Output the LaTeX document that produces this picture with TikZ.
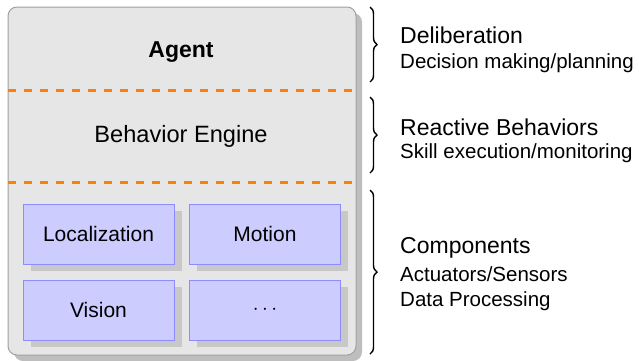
\documentclass[tikz,border=0pt]{standalone}
\usepackage{fontspec}
\setmainfont{Liberation Sans}
\usetikzlibrary{decorations.pathreplacing}
\definecolor{panelfill}{HTML}{E6E6E6}
\definecolor{paneledge}{HTML}{A0A0A0}
\definecolor{panelshadow}{HTML}{BEBEBE}
\definecolor{modfill}{HTML}{CCCCFF}
\definecolor{modedge}{HTML}{8C8CFF}
\definecolor{modshadow}{HTML}{C8C8C8}
\definecolor{layerline}{HTML}{FF8000}
\tikzset{
  panel/.style={draw=paneledge, fill=panelfill, line width=1pt, rounded corners=9pt,
    minimum width=348pt, minimum height=348pt, inner sep=0pt},
  panelshade/.style={fill=panelshadow, rounded corners=9pt,
    minimum width=348pt, minimum height=348pt, inner sep=0pt},
  module/.style={draw=modedge, fill=modfill, line width=1pt,
    minimum width=151pt, minimum height=60pt, inner sep=0pt,
    font=\fontsize{21}{25}\selectfont},
  moduleshade/.style={fill=modshadow, minimum width=151pt, minimum height=60pt, inner sep=0pt},
  layer/.style={draw=layerline, line width=3pt, dash pattern=on 8pt off 8pt},
  bracket/.style={decorate, decoration={brace, amplitude=7pt}, line width=1.4pt},
  title/.style={anchor=base west, inner sep=0pt, font=\fontsize{23}{27}\selectfont},
  subtitle/.style={anchor=base west, inner sep=0pt, font=\fontsize{20.5}{24}\selectfont},
  layername/.style={anchor=base, inner sep=0pt, font=\fontsize{23.6}{28}\selectfont},
}
\begin{document}
\begin{tikzpicture}[x=1pt, y=-1pt]
\useasboundingbox (0,0) rectangle (639,360);

% architecture panel with its drop shadow
\node[panelshade] (panelsh) at (188,187) {};
\node[panel] (panel) at (182,181) {};

% layer separators
\coordinate (sep1w) at (8,90);   \coordinate (sep1e) at (356,90);
\coordinate (sep2w) at (8,182);  \coordinate (sep2e) at (356,182);
\draw[layer] (sep1w) -- (sep1e);
\draw[layer] (sep2w) -- (sep2e);

% layer names
\node[layername, font=\fontsize{23}{27}\selectfont\bfseries] (agent) at (181,57) {Agent};
\node[layername] (engine) at (181,142) {Behavior Engine};

% component modules
\node[moduleshade] (locsh) at (106,241) {};
\node[moduleshade] (motsh) at (272,241) {};
\node[moduleshade] (vissh) at (106,317) {};
\node[moduleshade] (dotsh) at (272,317) {};
\node[module] (loc) at (98.5,234) {Localization};
\node[module] (mot) at (265,234) {Motion};
\node[module] (vis) at (98.5,310) {Vision};
\node[module] (more) at (265,310) {$\cdots$};

% braces for the three layers
\coordinate (b1t) at (370,7);   \coordinate (b1b) at (370,82);
\coordinate (b2t) at (370,97);  \coordinate (b2b) at (370,173);
\coordinate (b3t) at (370,190); \coordinate (b3b) at (370,354);
\draw[bracket] (b1t) -- (b1b);
\draw[bracket] (b2t) -- (b2b);
\draw[bracket] (b3t) -- (b3b);

% layer descriptions
\node[title] (delib) at (400,43) {Deliberation};
\node[subtitle] (delibsub) at (400,68) {Decision making/planning};
\node[title] (react) at (400,135) {Reactive Behaviors};
\node[subtitle] (reactsub) at (400,158) {Skill execution/monitoring};
\node[title] (comp) at (400,253) {Components};
\node[subtitle] (compa) at (400,281) {Actuators/Sensors};
\node[subtitle] (compb) at (400,306.5) {Data Processing};
\end{tikzpicture}
\end{document}
